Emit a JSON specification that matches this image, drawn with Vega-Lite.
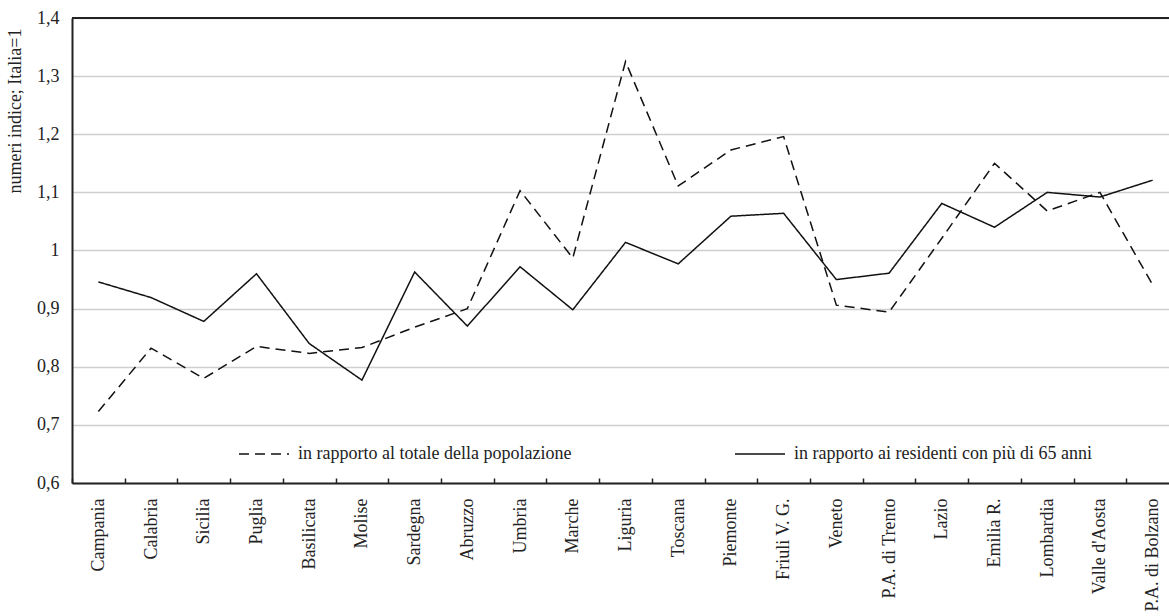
{
  "$schema": "https://vega.github.io/schema/vega-lite/v6.json",
  "autosize": {"type": "none"},
  "width": 1097,
  "height": 465,
  "padding": {"left": 72, "top": 18, "right": 0, "bottom": 133},
  "background": "white",
  "config": {
    "view": {"stroke": null},
    "font": "Liberation Serif"
  },
  "data": {
    "values": [
      {"regione": "Campania", "serie": "in rapporto al totale della popolazione", "valore": 0.723},
      {"regione": "Calabria", "serie": "in rapporto al totale della popolazione", "valore": 0.832},
      {"regione": "Sicilia", "serie": "in rapporto al totale della popolazione", "valore": 0.780},
      {"regione": "Puglia", "serie": "in rapporto al totale della popolazione", "valore": 0.835},
      {"regione": "Basilicata", "serie": "in rapporto al totale della popolazione", "valore": 0.823},
      {"regione": "Molise", "serie": "in rapporto al totale della popolazione", "valore": 0.833},
      {"regione": "Sardegna", "serie": "in rapporto al totale della popolazione", "valore": 0.868},
      {"regione": "Abruzzo", "serie": "in rapporto al totale della popolazione", "valore": 0.900},
      {"regione": "Umbria", "serie": "in rapporto al totale della popolazione", "valore": 1.103},
      {"regione": "Marche", "serie": "in rapporto al totale della popolazione", "valore": 0.987},
      {"regione": "Liguria", "serie": "in rapporto al totale della popolazione", "valore": 1.325},
      {"regione": "Toscana", "serie": "in rapporto al totale della popolazione", "valore": 1.111},
      {"regione": "Piemonte", "serie": "in rapporto al totale della popolazione", "valore": 1.173},
      {"regione": "Friuli V. G.", "serie": "in rapporto al totale della popolazione", "valore": 1.196},
      {"regione": "Veneto", "serie": "in rapporto al totale della popolazione", "valore": 0.906},
      {"regione": "P.A. di Trento", "serie": "in rapporto al totale della popolazione", "valore": 0.894},
      {"regione": "Lazio", "serie": "in rapporto al totale della popolazione", "valore": 1.021},
      {"regione": "Emilia R.", "serie": "in rapporto al totale della popolazione", "valore": 1.150},
      {"regione": "Lombardia", "serie": "in rapporto al totale della popolazione", "valore": 1.068},
      {"regione": "Valle d'Aosta", "serie": "in rapporto al totale della popolazione", "valore": 1.100},
      {"regione": "P.A. di Bolzano", "serie": "in rapporto al totale della popolazione", "valore": 0.941},
      {"regione": "Campania", "serie": "in rapporto ai residenti con più di 65 anni", "valore": 0.946},
      {"regione": "Calabria", "serie": "in rapporto ai residenti con più di 65 anni", "valore": 0.919},
      {"regione": "Sicilia", "serie": "in rapporto ai residenti con più di 65 anni", "valore": 0.878},
      {"regione": "Puglia", "serie": "in rapporto ai residenti con più di 65 anni", "valore": 0.960},
      {"regione": "Basilicata", "serie": "in rapporto ai residenti con più di 65 anni", "valore": 0.840},
      {"regione": "Molise", "serie": "in rapporto ai residenti con più di 65 anni", "valore": 0.777},
      {"regione": "Sardegna", "serie": "in rapporto ai residenti con più di 65 anni", "valore": 0.963},
      {"regione": "Abruzzo", "serie": "in rapporto ai residenti con più di 65 anni", "valore": 0.870},
      {"regione": "Umbria", "serie": "in rapporto ai residenti con più di 65 anni", "valore": 0.972},
      {"regione": "Marche", "serie": "in rapporto ai residenti con più di 65 anni", "valore": 0.898},
      {"regione": "Liguria", "serie": "in rapporto ai residenti con più di 65 anni", "valore": 1.014},
      {"regione": "Toscana", "serie": "in rapporto ai residenti con più di 65 anni", "valore": 0.977},
      {"regione": "Piemonte", "serie": "in rapporto ai residenti con più di 65 anni", "valore": 1.059},
      {"regione": "Friuli V. G.", "serie": "in rapporto ai residenti con più di 65 anni", "valore": 1.064},
      {"regione": "Veneto", "serie": "in rapporto ai residenti con più di 65 anni", "valore": 0.950},
      {"regione": "P.A. di Trento", "serie": "in rapporto ai residenti con più di 65 anni", "valore": 0.961},
      {"regione": "Lazio", "serie": "in rapporto ai residenti con più di 65 anni", "valore": 1.081},
      {"regione": "Emilia R.", "serie": "in rapporto ai residenti con più di 65 anni", "valore": 1.040},
      {"regione": "Lombardia", "serie": "in rapporto ai residenti con più di 65 anni", "valore": 1.100},
      {"regione": "Valle d'Aosta", "serie": "in rapporto ai residenti con più di 65 anni", "valore": 1.092},
      {"regione": "P.A. di Bolzano", "serie": "in rapporto ai residenti con più di 65 anni", "valore": 1.121}
    ]
  },
  "layer": [
    {
      "mark": {"type": "line", "color": "#111", "strokeWidth": 1.5},
      "encoding": {
        "x": {
          "field": "regione",
          "type": "nominal",
          "sort": null,
          "bandPosition": 0.5,
          "scale": {"type": "band", "range": [0, 1107], "paddingInner": 0, "paddingOuter": 0},
          "axis": {
            "title": null,
            "labelAngle": -90,
            "labelFont": "Liberation Serif",
            "labelFontSize": 18,
            "labelColor": "#222",
            "labelPadding": 20,
            "tickBand": "extent",
            "tickSize": -5,
            "tickColor": "#222",
            "tickWidth": 1.5,
            "domainColor": "#222",
            "domainWidth": 2,
            "grid": false
          }
        },
        "y": {
          "field": "valore",
          "type": "quantitative",
          "scale": {"domain": [0.6, 1.4], "nice": false, "zero": false},
          "axis": {
            "title": "numeri indice; Italia=1",
            "titleFont": "Liberation Serif",
            "titleFontSize": 18,
            "titleFontWeight": "normal",
            "titleColor": "#222",
            "titlePadding": 12,
            "titleAnchor": "end",
            "titleY": 10,
            "values": [0.6, 0.7, 0.8, 0.9, 1.0, 1.1, 1.2, 1.3, 1.4],
            "labelExpr": "replace(format(datum.value, '~g'), '.', ',')",
            "labelFont": "Liberation Serif",
            "labelFontSize": 18,
            "labelColor": "#222",
            "labelPadding": 13,
            "ticks": false,
            "domainColor": "#222",
            "domainWidth": 2,
            "grid": true,
            "gridColor": "#cfcfcf",
            "gridWidth": 1.5
          }
        },
        "strokeDash": {
          "field": "serie",
          "type": "nominal",
          "scale": {
            "domain": ["in rapporto al totale della popolazione", "in rapporto ai residenti con più di 65 anni"],
            "range": [[10, 6], [1, 0]]
          },
          "legend": {
            "title": null,
            "orient": "none",
            "legendX": 166,
            "legendY": 410,
            "direction": "horizontal",
            "columns": 2,
            "columnPadding": 160,
            "symbolType": "stroke",
            "symbolSize": 2500,
            "symbolStrokeColor": "#111",
            "symbolStrokeWidth": 1.5,
            "labelFont": "Liberation Serif",
            "labelFontSize": 18,
            "labelColor": "#222",
            "labelOffset": 8,
            "labelLimit": 500
          }
        }
      }
    },
    {
      "mark": {"type": "rule", "color": "#222", "strokeWidth": 2},
      "encoding": {"y": {"datum": 1.4}}
    }
  ]
}
